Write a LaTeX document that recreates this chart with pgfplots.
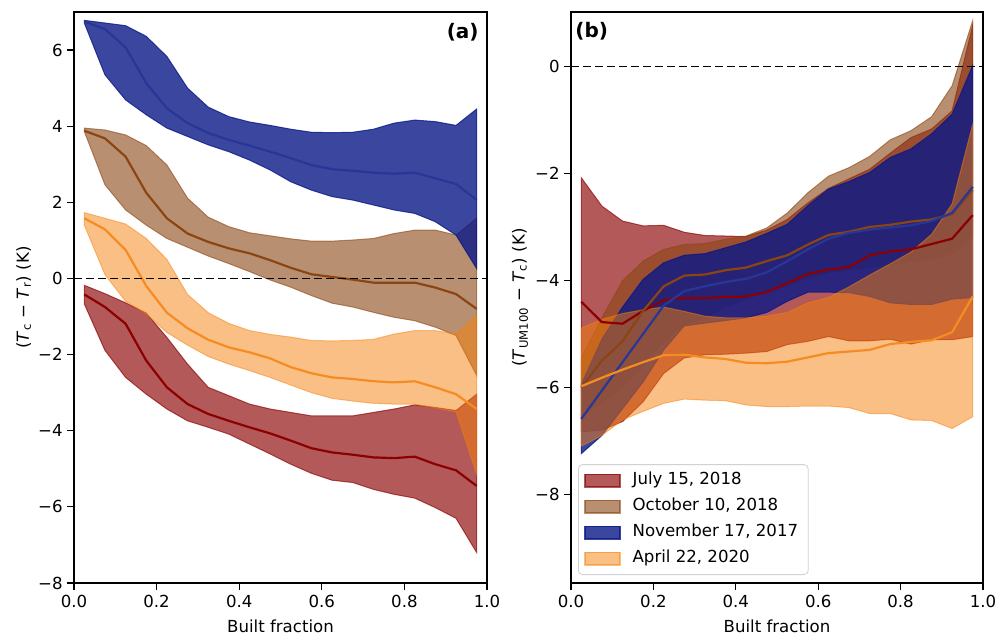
\documentclass[border=0pt]{standalone}
\usepackage{fontspec}
\setmainfont{DejaVu Sans}
\usepackage{pgfplots}
\usepackage{pgfplotstable}
\pgfplotsset{compat=1.18}
\usepgfplotslibrary{fillbetween}

\definecolor{cRed}{RGB}{139,0,0}
\definecolor{cBrown}{RGB}{139,69,19}
\definecolor{cBlue}{RGB}{10,24,135}
\definecolor{cOrange}{RGB}{245,128,10}
\definecolor{lRed}{RGB}{139,0,0}
\definecolor{lBrown}{RGB}{139,69,19}
\definecolor{lBlue}{RGB}{40,55,150}
\definecolor{lOrange}{RGB}{245,140,35}

\newcommand{\fs}{\fontsize{8.3}{10}\selectfont}

% ---------------- panel (a) ----------------
\pgfplotstableread{
x lo mid hi
0.025 6.71 6.75 6.78
0.075 5.35 6.55 6.71
0.125 4.69 6.07 6.64
0.175 4.30 5.13 6.36
0.225 3.95 4.47 5.83
0.275 3.73 4.08 5.00
0.325 3.51 3.82 4.50
0.375 3.33 3.64 4.25
0.425 3.11 3.49 4.11
0.475 2.85 3.33 4.02
0.525 2.54 3.16 3.92
0.575 2.32 2.98 3.84
0.625 2.15 2.87 3.83
0.675 2.06 2.83 3.84
0.725 1.93 2.78 3.92
0.775 1.80 2.75 4.08
0.825 1.71 2.78 4.16
0.875 1.49 2.63 4.12
0.925 1.14 2.48 4.02
0.975 0.26 2.06 4.45
}\aBlue
\pgfplotstableread{
x lo mid hi
0.025 3.86 3.88 3.95
0.075 2.46 3.68 3.90
0.125 1.80 3.20 3.77
0.175 1.40 2.25 3.49
0.225 1.05 1.58 2.98
0.275 0.82 1.18 2.11
0.325 0.59 0.96 1.61
0.375 0.39 0.79 1.36
0.425 0.18 0.66 1.20
0.475 -0.04 0.48 1.12
0.525 -0.23 0.28 1.04
0.575 -0.45 0.11 0.98
0.625 -0.65 0.04 0.98
0.675 -0.75 -0.03 1.01
0.725 -0.89 -0.11 1.05
0.775 -1.02 -0.11 1.18
0.825 -1.11 -0.11 1.27
0.875 -1.28 -0.24 1.27
0.925 -1.50 -0.41 1.14
0.975 -2.55 -0.80 1.58
}\aBrown
\pgfplotstableread{
x lo mid hi
0.025 1.40 1.58 1.73
0.075 0.10 1.29 1.58
0.125 -0.60 0.75 1.43
0.175 -0.93 -0.20 1.05
0.225 -1.42 -0.90 0.50
0.275 -1.75 -1.31 -0.42
0.325 -2.05 -1.61 -0.90
0.375 -2.25 -1.81 -1.18
0.425 -2.42 -1.94 -1.37
0.475 -2.60 -2.10 -1.47
0.525 -2.80 -2.33 -1.54
0.575 -3.00 -2.49 -1.63
0.625 -3.15 -2.60 -1.64
0.675 -3.22 -2.64 -1.63
0.725 -3.28 -2.70 -1.60
0.775 -3.30 -2.73 -1.46
0.825 -3.30 -2.70 -1.37
0.875 -3.40 -2.86 -1.37
0.925 -3.50 -3.04 -1.46
0.975 -5.14 -3.43 -0.97
}\aOrange
\pgfplotstableread{
x lo mid hi
0.025 -0.67 -0.42 -0.18
0.075 -1.89 -0.75 -0.40
0.125 -2.60 -1.19 -0.64
0.175 -3.04 -2.16 -0.91
0.225 -3.43 -2.86 -1.55
0.275 -3.74 -3.30 -2.25
0.325 -3.91 -3.56 -2.86
0.375 -4.09 -3.74 -3.08
0.425 -4.35 -3.91 -3.30
0.475 -4.61 -4.07 -3.43
0.525 -4.88 -4.26 -3.52
0.575 -5.12 -4.46 -3.61
0.625 -5.30 -4.57 -3.61
0.675 -5.36 -4.63 -3.61
0.725 -5.54 -4.70 -3.52
0.775 -5.67 -4.72 -3.43
0.825 -5.77 -4.68 -3.32
0.875 -6.02 -4.88 -3.39
0.925 -6.30 -5.04 -3.47
0.975 -7.20 -5.45 -3.04
}\aRed

% ---------------- panel (b) ----------------
\pgfplotstableread{
x lo mid hi
0.025 -6.83 -4.40 -2.08
0.075 -6.80 -4.78 -2.61
0.125 -6.64 -4.81 -2.89
0.175 -6.27 -4.57 -2.98
0.225 -5.74 -4.37 -2.97
0.275 -5.45 -4.33 -3.10
0.325 -5.39 -4.33 -3.16
0.375 -5.38 -4.31 -3.17
0.425 -5.36 -4.30 -3.18
0.475 -5.33 -4.22 -3.06
0.525 -5.20 -4.05 -2.86
0.575 -5.14 -3.88 -2.55
0.625 -5.05 -3.80 -2.28
0.675 -5.13 -3.75 -2.10
0.725 -5.13 -3.53 -1.92
0.775 -5.10 -3.46 -1.62
0.825 -5.19 -3.42 -1.33
0.875 -5.11 -3.32 -1.17
0.925 -5.11 -3.22 -0.83
0.975 -5.05 -2.78 0.77
}\bRed
\pgfplotstableread{
x lo mid hi
0.025 -6.55 -6.00 -5.45
0.075 -6.30 -5.50 -4.70
0.125 -6.00 -5.14 -4.01
0.175 -5.60 -4.57 -3.64
0.225 -5.14 -4.11 -3.42
0.275 -4.83 -3.91 -3.33
0.325 -4.70 -3.89 -3.31
0.375 -4.50 -3.81 -3.23
0.425 -4.35 -3.76 -3.17
0.475 -4.20 -3.64 -3.02
0.525 -4.10 -3.53 -2.74
0.575 -3.95 -3.33 -2.36
0.625 -3.85 -3.15 -2.05
0.675 -3.80 -3.09 -1.89
0.725 -3.75 -3.00 -1.68
0.775 -3.70 -2.96 -1.37
0.825 -3.65 -2.90 -1.20
0.875 -3.60 -2.86 -0.94
0.925 -3.50 -2.76 -0.36
0.975 -3.20 -2.31 0.86
}\bBrown
\pgfplotstableread{
x lo mid hi
0.025 -7.24 -6.59 -5.94
0.075 -6.90 -6.06 -5.10
0.125 -6.40 -5.53 -4.50
0.175 -5.90 -5.00 -3.98
0.225 -5.30 -4.47 -3.67
0.275 -4.85 -4.20 -3.53
0.325 -4.80 -4.11 -3.50
0.375 -4.75 -4.03 -3.39
0.425 -4.70 -3.97 -3.28
0.475 -4.60 -3.85 -3.12
0.525 -4.39 -3.64 -2.95
0.575 -4.22 -3.42 -2.60
0.625 -4.22 -3.22 -2.29
0.675 -4.23 -3.11 -2.15
0.725 -4.30 -3.05 -1.98
0.775 -4.42 -3.01 -1.70
0.825 -4.45 -2.97 -1.54
0.875 -4.45 -2.89 -1.26
0.925 -4.35 -2.74 -0.89
0.975 -4.32 -2.25 0.02
}\bBlue
\pgfplotstableread{
x lo mid hi
0.025 -7.10 -5.98 -4.89
0.075 -6.90 -5.82 -4.73
0.125 -6.61 -5.67 -4.62
0.175 -6.45 -5.53 -4.55
0.225 -6.30 -5.40 -4.50
0.275 -6.22 -5.39 -4.58
0.325 -6.24 -5.44 -4.67
0.375 -6.25 -5.47 -4.70
0.425 -6.33 -5.54 -4.70
0.475 -6.36 -5.55 -4.67
0.525 -6.36 -5.52 -4.60
0.575 -6.35 -5.44 -4.42
0.625 -6.35 -5.36 -4.32
0.675 -6.38 -5.33 -4.12
0.725 -6.49 -5.30 -3.90
0.775 -6.49 -5.19 -3.69
0.825 -6.61 -5.15 -3.47
0.875 -6.62 -5.12 -3.14
0.925 -6.77 -4.97 -2.57
0.975 -6.55 -4.30 -1.08
}\bOrange

% band: #1 table, #2 name, #3 colour, #4 opacity
\newcommand{\band}[4]{%
  \addplot[name path=#2h, draw=none, forget plot] table[x=x,y=hi]{#1};
  \addplot[name path=#2l, draw=none, forget plot] table[x=x,y=lo]{#1};
  \addplot[fill=#3, fill opacity=#4, draw=#3, draw opacity=#4, line width=0.5pt, forget plot] fill between[of=#2h and #2l];
}
\newcommand{\meanline}[2]{%
  \addplot[#2, line width=1.1pt, forget plot] table[x=x,y=mid]{#1};
}

\pgfplotsset{
  common/.style={
    scale only axis, width=206.5pt, height=285.5pt,
    xmin=0, xmax=1, no markers,
    axis line style={line width=0.6pt},
    every tick/.style={line width=0.6pt, black},
    major tick length=3.5pt, tick align=outside,
    xtick pos=left, ytick pos=left,
    xtick={0,0.2,0.4,0.6,0.8,1},
    xticklabels={0.0,0.2,0.4,0.6,0.8,1.0},
    xticklabel style={inner sep=0pt, font=\fs, yshift=-2.5pt},
    yticklabel style={inner sep=0pt, font=\fs, xshift=-2pt},
    every axis x label/.style={at={(axis description cs:0.5,-0.0753)}, anchor=center, font=\fs},
    xlabel={Built fraction},
  },
}

\begin{document}
\begin{tikzpicture}

\begin{axis}[common,
  at={(0pt,0pt)}, anchor=south west,
  ymin=-8, ymax=7,
  ytick={-8,-6,-4,-2,0,2,4,6},
  yticklabels={−8,−6,−4,−2,0,2,4,6},
  every axis y label/.style={at={(axis description cs:-0.122,0.5)}, rotate=90, anchor=center, font=\fs},
  ylabel={(\textit{T}\textsubscript{c} − \textit{T}\textsubscript{r}) (K)},
]
\band{\aRed}{ar}{cRed}{0.65}
\band{\aBrown}{abr}{cBrown}{0.6}
\band{\aBlue}{abl}{cBlue}{0.8}
\band{\aOrange}{aor}{cOrange}{0.5}
\meanline{\aRed}{lRed}
\meanline{\aBrown}{lBrown}
\meanline{\aBlue}{lBlue}
\meanline{\aOrange}{lOrange}
\addplot[black, line width=0.75pt, dash pattern=on 4pt off 2pt, forget plot] coordinates {(0,0) (1,0)};
\node[anchor=north east, inner sep=0pt, xshift=-4pt, yshift=-5.5pt, font=\bfseries\fontsize{10}{12}\selectfont] at (rel axis cs:1,1) {(a)};
\end{axis}

\begin{axis}[common,
  at={(248.5pt,0pt)}, anchor=south west,
  width=206pt,
  ymin=-9.66, ymax=1.02,
  ytick={-8,-6,-4,-2,0},
  yticklabels={−8,−6,−4,−2,0},
  every axis y label/.style={at={(axis description cs:-0.1238,0.5)}, rotate=90, anchor=center, font=\fs},
  ylabel={(\textit{T}\textsubscript{UM100} − \textit{T}\textsubscript{c}) (K)},
  legend style={at={(axis description cs:0.017,0.014)}, anchor=south west,
    draw=black!18, rounded corners=2pt, fill=white, fill opacity=0.8, text opacity=1,
    font=\fs, inner xsep=3pt, inner ysep=1.5pt, row sep=0pt,
    nodes={inner sep=2pt, text height=6.6pt, text depth=2.4pt}},
  legend cell align=left,
  legend image code/.code={\draw[#1, sharp corners] (0pt,-3.2pt) rectangle (17.5pt,3.2pt); \path (21.5pt,0pt);},
]
\band{\bRed}{br}{cRed}{0.65}
\band{\bBrown}{bbr}{cBrown}{0.6}
\band{\bBlue}{bbl}{cBlue}{0.8}
\band{\bOrange}{bor}{cOrange}{0.5}
\meanline{\bRed}{lRed}
\meanline{\bBrown}{lBrown}
\meanline{\bBlue}{lBlue}
\meanline{\bOrange}{lOrange}
\addplot[black, line width=0.75pt, dash pattern=on 4pt off 2pt, forget plot] coordinates {(0,0) (1,0)};
\node[anchor=north west, inner sep=0pt, xshift=2pt, yshift=-5pt, font=\bfseries\fontsize{10}{12}\selectfont] at (rel axis cs:0,1) {(b)};
\addlegendimage{fill=cRed, fill opacity=0.65, draw=cRed, draw opacity=0.65, line width=0.6pt}
\addlegendentry{July 15, 2018}
\addlegendimage{fill=cBrown, fill opacity=0.6, draw=cBrown, draw opacity=0.6, line width=0.6pt}
\addlegendentry{October 10, 2018}
\addlegendimage{fill=cBlue, fill opacity=0.8, draw=cBlue, draw opacity=0.8, line width=0.6pt}
\addlegendentry{November 17, 2017}
\addlegendimage{fill=cOrange, fill opacity=0.5, draw=cOrange, draw opacity=0.5, line width=0.6pt}
\addlegendentry{April 22, 2020}
\end{axis}
\pgfresetboundingbox
\path[use as bounding box] (-37pt,-25.5pt) rectangle (461pt,291.5pt);
\end{tikzpicture}
\end{document}
